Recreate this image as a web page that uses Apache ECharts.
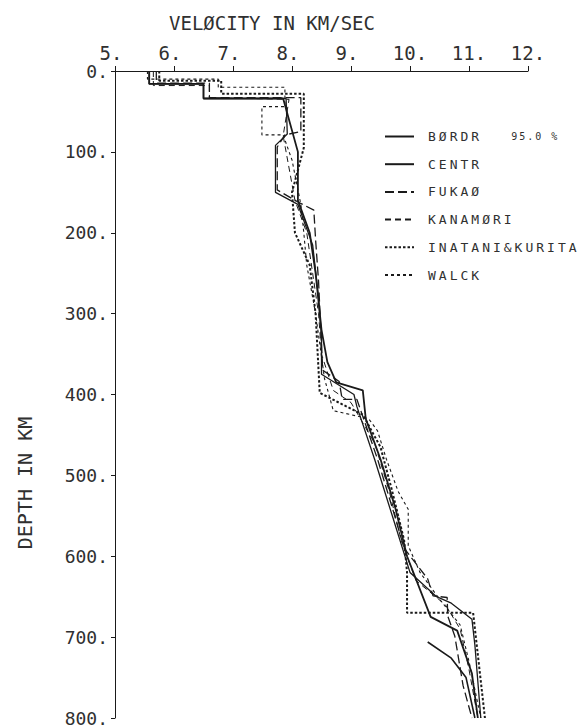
<!DOCTYPE html>
<html>
<head>
<meta charset="utf-8">
<script src="https://cdn.jsdelivr.net/npm/echarts@6/dist/echarts.min.js"></script>
<style>
  html, body { margin: 0; padding: 0; background: #fff; }
  #chart { width: 585px; height: 727px; }
</style>
</head>
<body>
<div id="chart"></div>
<script>
// ---- axis ticks ----
const velocityTicks = [5, 6, 7, 8, 9, 10, 11, 12];
const depthTicks = [0, 100, 200, 300, 400, 500, 600, 700, 800];

// ---- models: velocity (km/s) and depth (km) ----
const bordrVel   = [5.58, 5.58, 6.5, 6.5, 7.85, 8.1, 8.1, 8.3, 8.4, 8.5, 8.6, 8.75, 9.2, 9.25, 9.5, 9.75, 9.95, 10.35, 10.8, 11.05, 11.15];
const bordrDepth = [0, 16, 16, 34, 34, 100, 160, 200, 250, 320, 360, 385, 395, 430, 480, 540, 600, 675, 692, 745, 800];

const bordrLowVel   = [10.3, 10.7, 10.95, 11.1];
const bordrLowDepth = [706, 726, 750, 800];

const centrVel   = [5.58, 5.58, 6.5, 6.5, 7.9, 7.92, 7.72, 7.72, 8.1, 8.35, 8.45, 8.5, 8.5, 9.05, 9.1, 9.4, 9.7, 10.0, 10.45, 10.7, 11.05, 11.1, 11.2];
const centrDepth = [0, 16, 16, 34, 34, 78, 92, 150, 165, 215, 280, 330, 375, 400, 415, 480, 550, 620, 650, 658, 678, 710, 800];

const fukaoVel   = [5.7, 5.7, 6.6, 6.6, 8.15, 8.15, 7.88, 7.75, 7.75, 8.1, 8.37, 8.4, 8.45, 8.52, 8.8, 8.85, 9.1, 9.45, 9.7, 9.9, 10.3, 10.39, 10.63, 10.64, 10.76, 10.9, 11.05];
const fukaoDepth = [0, 15, 15, 33, 33, 75, 79, 94, 147, 162, 172, 209, 260, 370, 384, 406, 406, 480, 540, 590, 628, 649, 651, 674, 699, 760, 800];

const kanamoriVel   = [5.65, 5.65, 6.6, 6.6, 7.95, 7.85, 8.05, 8.25, 8.35, 8.45, 8.5, 8.7, 9.0, 9.4, 9.65, 9.85, 10.1, 10.6, 10.85, 11.0, 11.15];
const kanamoriDepth = [0, 18, 18, 33, 35, 80, 160, 200, 250, 300, 350, 395, 410, 460, 520, 580, 630, 660, 690, 740, 800];

const inataniVel   = [5.75, 5.75, 6.8, 6.8, 8.2, 8.2, 8.0, 8.05, 8.3, 8.4, 8.47, 9.2, 9.5, 9.7, 9.9, 9.95, 9.95, 11.07, 11.27];
const inataniDepth = [0, 12, 12, 28, 28, 95, 150, 200, 240, 300, 398, 425, 465, 520, 580, 620, 670, 670, 800];

const walckVel   = [5.55, 5.55, 6.75, 6.75, 7.88, 7.88, 7.49, 7.49, 7.85, 8.0, 8.15, 8.2, 8.25, 8.4, 8.55, 8.7, 9.3, 9.45, 9.6, 9.8, 9.97, 9.97, 10.17, 10.5, 10.85, 11.0, 11.2];
const walckDepth = [0, 10, 10, 20, 20, 44, 44, 79, 79, 110, 165, 200, 240, 300, 380, 420, 430, 445, 480, 520, 542, 587, 620, 653, 685, 730, 800];

const modelNames = ['BØRDR', 'CENTR', 'FUKAØ', 'KANAMØRI', 'INATANI&KURITA', 'WALCK'];
const confidenceLabel = '95.0 %';

function pairs(v, d) { return v.map((x, i) => [x, d[i]]); }

const FONT = 'DejaVu Sans Mono';
const INK = '#1a1a1a';
const TXT = '#303030';

const chart = echarts.init(document.getElementById('chart'), null, { renderer: 'svg' });

function lineSeries(name, v, d, type, width) {
  return {
    name: name, type: 'line', data: pairs(v, d),
    symbol: 'none', showSymbol: false, smooth: false, animation: false,
    lineStyle: { color: INK, width: width, type: type, cap: 'butt' },
    itemStyle: { color: INK },
    z: 3
  };
}

const option = {
  animation: false,
  backgroundColor: '#fff',
  grid: { left: 115, top: 71, right: 57, bottom: 8, containLabel: false },
  xAxis: {
    type: 'value', position: 'top', min: 5, max: 12, interval: 1,
    axisLine: { show: true, lineStyle: { color: INK, width: 1 } },
    axisTick: { show: true, inside: false, length: 5, lineStyle: { color: INK } },
    splitLine: { show: false },
    axisLabel: {
      margin: 9, color: TXT, fontFamily: FONT, fontSize: 19,
      formatter: function (v) { return v < 10 ? '{a|' + v + '.}' : '{b|' + v + '.}'; },
      rich: {
        a: { fontFamily: FONT, fontSize: 19, color: TXT, padding: [0, 8, 0, 0] },
        b: { fontFamily: FONT, fontSize: 19, color: TXT }
      }
    }
  },
  yAxis: {
    type: 'value', inverse: true, min: 0, max: 800, interval: 100,
    axisLine: { show: true, onZero: false, lineStyle: { color: INK, width: 1 } },
    axisTick: { show: true, inside: false, length: 4, lineStyle: { color: INK } },
    splitLine: { show: false },
    axisLabel: {
      margin: 7, color: TXT, fontFamily: FONT, fontSize: 18,
      formatter: function (v) { return v + '.'; }
    }
  },
  legend: {
    orient: 'vertical', left: 379, top: 125,
    itemWidth: 29, itemHeight: 14, itemGap: 14.7,
    data: modelNames,
    itemStyle: { opacity: 0 },
    textStyle: {
      fontFamily: FONT, fontSize: 13, color: TXT, padding: [0, 0, 0, 9],
      rich: {
        n: { fontFamily: FONT, fontSize: 13, color: TXT },
        p: { fontFamily: FONT, fontSize: 10, color: TXT, padding: [0, 0, 0, 44] }
      }
    },
    formatter: function (name) {
      return name === 'BØRDR' ? '{n|' + name + '}{p|' + confidenceLabel + '}' : name;
    }
  },
  graphic: [
    {
      type: 'text', x: 272, y: 23, z: 10,
      style: { text: 'VELØCITY IN KM/SEC', font: '19px "' + FONT + '"', fill: TXT,
               align: 'center', verticalAlign: 'middle', textAlign: 'center', textVerticalAlign: 'middle' }
    },
    {
      type: 'text', x: 25, y: 483, rotation: Math.PI / 2, z: 10,
      style: { text: 'DEPTH IN KM', font: '20px "' + FONT + '"', fill: TXT,
               align: 'center', verticalAlign: 'middle', textAlign: 'center', textVerticalAlign: 'middle' }
    }
  ],
  series: [
    lineSeries('BØRDR', bordrVel, bordrDepth, 'solid', 1.8),
    lineSeries('BØRDR 95%', bordrLowVel, bordrLowDepth, 'solid', 1.6),
    lineSeries('CENTR', centrVel, centrDepth, 'solid', 1.3),
    lineSeries('FUKAØ', fukaoVel, fukaoDepth, [9, 4], 1.3),
    lineSeries('KANAMØRI', kanamoriVel, kanamoriDepth, [6, 4], 1.0),
    lineSeries('INATANI&KURITA', inataniVel, inataniDepth, [2.5, 2], 2.0),
    lineSeries('WALCK', walckVel, walckDepth, [3, 3], 1.1)
  ]
};

chart.setOption(option);

function spaceLetters() {
  document.querySelectorAll('#chart svg text').forEach(function (t) {
    const fs = parseFloat(getComputedStyle(t).fontSize);
    if (fs === 13) t.style.letterSpacing = '3px';
    else if (fs === 10) t.style.letterSpacing = '2px';
  });
}
chart.on('finished', spaceLetters);
spaceLetters();
</script>
</body>
</html>
